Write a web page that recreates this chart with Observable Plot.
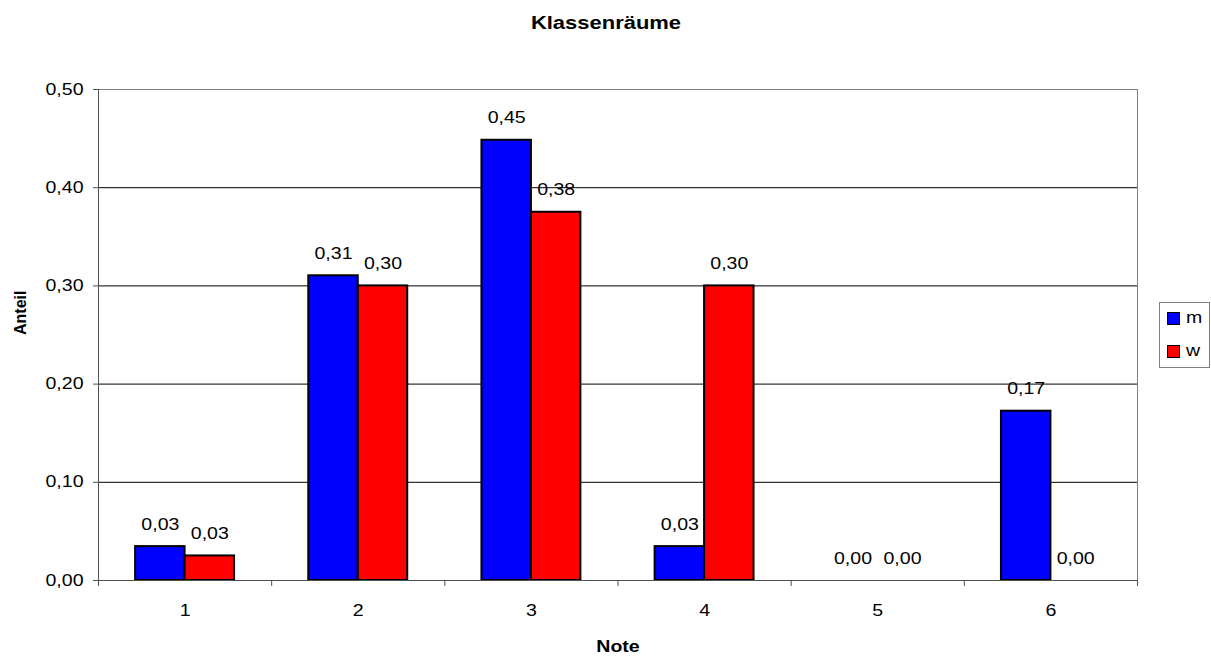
<!DOCTYPE html>
<html>
<head>
<meta charset="utf-8">
<script src="https://cdn.jsdelivr.net/npm/d3@7"></script>
<script src="https://cdn.jsdelivr.net/npm/@observablehq/plot@0.6"></script>
<style>
  html, body { margin: 0; padding: 0; background: #fff; }
  #chart { position: relative; width: 1211px; height: 657px; font-family: "Liberation Sans", Arial, sans-serif; }
  #legend { position: absolute; left: 1159px; top: 302px; width: 51px; height: 66px; border: 1px solid #808080; box-sizing: border-box; font-size: 16px; }
  #legend .item { position: absolute; left: 7px; display: flex; align-items: center; }
  #legend .sw { width: 11px; height: 11px; border: 1.5px solid #000; margin-right: 6px; }
  #legend .lbl { display: inline-block; transform: scaleX(1.22); transform-origin: left center; }
</style>
</head>
<body>
<div id="chart">
  <div id="legend"></div>
</div>
<script>
// Grades (Noten) and the share of each grade for boys (m) and girls (w)
const notes = [1, 2, 3, 4, 5, 6];
const anteilM = [0.0345, 0.3103, 0.4483, 0.0345, 0, 0.1724];
const anteilW = [0.025, 0.30, 0.375, 0.30, 0, 0];
const seriesNames = ["m", "w"];
const seriesColors = ["#0000ff", "#ff0000"];
const yTicks = [0, 0.1, 0.2, 0.3, 0.4, 0.5];
const title = "Klassenräume";
const xTitle = "Note";
const yTitle = "Anteil";

// bar width as a fraction of one category, with a 150% gap between groups
const barW = 1 / (2 + 1.5);

const rows = [];
notes.forEach((n, i) => {
  rows.push({note: n, serie: "m", value: anteilM[i], x1: n - barW, x2: n});
  rows.push({note: n, serie: "w", value: anteilW[i], x1: n, x2: n + barW});
});

const fmt = d => d.toFixed(2).replace(".", ",");

const chart = Plot.plot({
  width: 1211,
  height: 657,
  marginLeft: 98,
  marginRight: 74,
  marginTop: 89,
  marginBottom: 77,
  style: {fontFamily: "'Liberation Sans', Arial, sans-serif", fontSize: "16px", background: "#fff", color: "#000"},
  x: {domain: [0.5, 6.5]},
  y: {domain: [0, 0.5]},
  color: {domain: seriesNames, range: seriesColors},
  marks: [
    Plot.gridY([0.1, 0.2, 0.3, 0.4], {stroke: "#000", strokeOpacity: 1}),
    Plot.frame({stroke: "#808080"}),
    Plot.rectY(rows, {x1: "x1", x2: "x2", y1: 0, y2: "value", fill: "serie", stroke: "#000", strokeWidth: 2}),
    Plot.ruleX([0.5], {stroke: "#505050"}),
    Plot.ruleY([0], {stroke: "#505050"}),
    Plot.axisY(yTicks, {tickFormat: fmt, tickSize: 5, tickPadding: 10, stroke: "#505050", label: null, fontSize: 16}),
    Plot.axisX(d3.range(0.5, 7, 1), {tickSize: 6, tickFormat: () => "", stroke: "#505050", label: null}),
    Plot.axisX(notes, {tickSize: 0, tickPadding: 24, tickFormat: d => String(d), label: null, fontSize: 16}),
    Plot.text(rows, {x: d => (d.x1 + d.x2) / 2, y: "value", text: d => fmt(d.value), dy: -22, fontSize: 16, fill: "#000"}),
    Plot.text([title], {frameAnchor: "top", dx: -12, dy: -73, fontWeight: "bold", fontSize: 18}),
    Plot.text([xTitle], {frameAnchor: "bottom", dy: 71, fontWeight: "bold", fontSize: 16}),
    Plot.text([yTitle], {frameAnchor: "left", dx: -78, rotate: -90, fontWeight: "bold", fontSize: 16})
  ]
});

document.getElementById("chart").prepend(chart);
chart.style.position = "absolute";
chart.style.left = "0";
chart.style.top = "0";

// the lettering of this chart is set slightly wide
for (const t of chart.querySelectorAll("text")) {
  if ((t.getAttribute("transform") || "").includes("rotate")) continue;
  const w = t.getComputedTextLength();
  if (w > 0) {
    t.setAttribute("textLength", (w * 1.22).toFixed(1));
    t.setAttribute("lengthAdjust", "spacingAndGlyphs");
  }
}

const legend = document.getElementById("legend");
seriesNames.forEach((s, i) => {
  const item = document.createElement("div");
  item.className = "item";
  item.style.top = (6 + i * 33) + "px";
  const sw = document.createElement("div");
  sw.className = "sw";
  sw.style.background = seriesColors[i];
  const lbl = document.createElement("span");
  lbl.className = "lbl";
  lbl.textContent = s;
  item.appendChild(sw);
  item.appendChild(lbl);
  legend.appendChild(item);
});
</script>
</body>
</html>
